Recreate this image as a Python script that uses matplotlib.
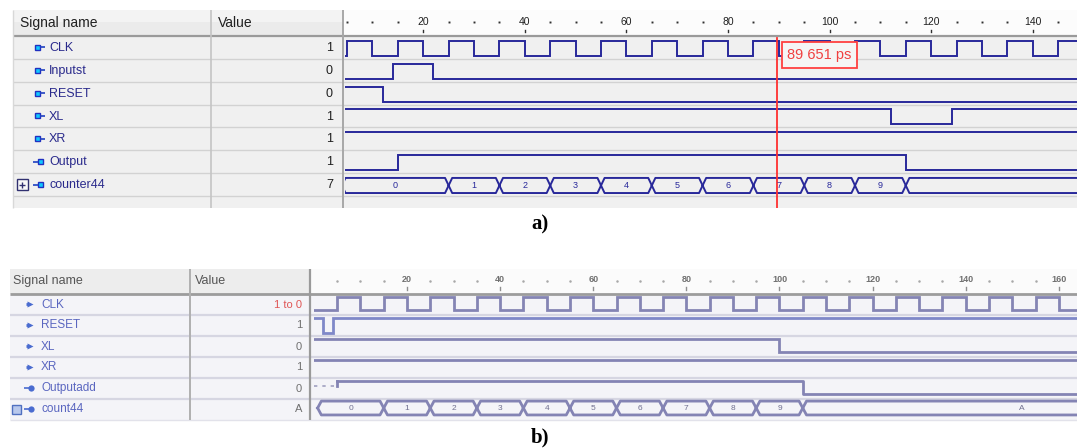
import matplotlib
matplotlib.use("Agg")
import matplotlib.pyplot as plt
import numpy as np
from matplotlib.patches import Rectangle

plt.rcParams['font.family'] = ['Liberation Sans', 'DejaVu Sans']

# ---------------- panel a data ----------------
names_a = ["CLK", "Inputst", "RESET", "XL", "XR", "Output", "counter44"]
dirs_a = ["in", "in", "in", "in", "in", "out", "bus"]
values_a = ["1", "0", "0", "1", "1", "1", "7"]
clk_a_edges = [5, 10, 15, 20, 25, 30, 35, 40, 45, 50, 55, 60, 65, 70, 75,
               80, 85, 90, 95, 100, 105, 110, 115, 120, 125, 130, 135, 140, 145]
clk_a_start = 0
inputst_a_edges = [14, 22]
inputst_a_start = 0
reset_a_edges = [12]
reset_a_start = 1
xl_a_edges = [112, 124]
xl_a_start = 1
xr_a_edges = []
xr_a_start = 1
output_a_edges = [15, 115]
output_a_start = 0
counter_a_bounds = [4, 25, 35, 45, 55, 65, 75, 85, 95, 105, 115, 170]
counter_a_labels = ["0", "1", "2", "3", "4", "5", "6", "7", "8", "9", ""]
ticks_a = [20, 40, 60, 80, 100, 120, 140]
cursor_a = 89.651
cursor_a_label = "89 651 ps"
view_a = (4.6, 148.7)

# ---------------- panel b data ----------------
names_b = ["CLK", "RESET", "XL", "XR", "Outputadd", "count44"]
dirs_b = ["in", "in", "in", "in", "out", "bus"]
values_b = ["1 to 0", "1", "0", "1", "0", "A"]
clk_b_edges = [5, 10, 15, 20, 25, 30, 35, 40, 45, 50, 55, 60, 65, 70, 75, 80,
               85, 90, 95, 100, 105, 110, 115, 120, 125, 130, 135, 140, 145,
               150, 155, 160]
clk_b_start = 0
reset_b_edges = [2, 4]
reset_b_start = 1
xl_b_edges = [100]
xl_b_start = 1
xr_b_edges = []
xr_b_start = 1
output_b_unknown_until = 5
output_b_edges = [105]
output_b_start = 1
count_b_bounds = [0.8, 15, 25, 35, 45, 55, 65, 75, 85, 95, 105, 199]
count_b_labels = ["0", "1", "2", "3", "4", "5", "6", "7", "8", "9", "A"]
ticks_b = [20, 40, 60, 80, 100, 120, 140, 160]
view_b = (0, 163.9)

# ---------------- figure ----------------
W, H = 1077, 448
fig = plt.figure(figsize=(W / 100, H / 100), dpi=100)
fig.patch.set_facecolor('white')


def px_axes(x0, y0, x1, y1, z=1):
    ax = fig.add_axes([x0 / W, 1 - y1 / H, (x1 - x0) / W, (y1 - y0) / H])
    ax.set_axis_off()
    ax.set_zorder(z)
    ax.patch.set_alpha(0)
    return ax


chrome = px_axes(0, 0, W, H, z=1)
chrome.set_xlim(0, W)
chrome.set_ylim(H, 0)


def rect(x0, y0, x1, y1, fc, ec='none', lw=0):
    chrome.add_patch(Rectangle((x0, y0), x1 - x0, y1 - y0, fc=fc, ec=ec, lw=lw))


def hline(y, x0, x1, c, lw=1):
    chrome.plot([x0, x1], [y, y], color=c, lw=lw, solid_capstyle='butt')


def vline(x, y0, y1, c, lw=1):
    chrome.plot([x, x], [y0, y1], color=c, lw=lw, solid_capstyle='butt')


def step_xy(start, edges, t0, t1):
    xs, ys, lvl = [t0], [start], start
    for e in edges:
        xs += [e, e]
        ys += [lvl, 1 - lvl]
        lvl = 1 - lvl
    xs.append(t1)
    ys.append(lvl)
    return np.array(xs, float), np.array(ys, float)


def draw_step(ax, row, start, edges, view, hi, lo, color, lw):
    xs, ys = step_xy(start, edges, view[0] - 5, view[1] + 5)
    yy = np.where(ys > 0.5, row + hi, row + lo)
    ax.plot(xs, yy, color=color, lw=lw, solid_joinstyle='miter')


def draw_bus(ax, row, bounds, labels, d, hi, lo, color, lw, fs, tcolor):
    mid = row + (hi + lo) / 2
    for s, e, lab in zip(bounds[:-1], bounds[1:], labels):
        xs = [s, s + d, e - d, e, e - d, s + d, s]
        ys = [mid, row + hi, row + hi, mid, row + lo, row + lo, mid]
        ax.plot(xs, ys, color=color, lw=lw)
        if lab:
            ax.text((s + e) / 2, mid + 0.02, lab, ha='center', va='center',
                    fontsize=fs, color=tcolor, clip_on=True)


# ================= PANEL A =================
ax0, ay0, acol1, acol2, awx, ay_head, ay1 = 13, 10, 211, 343, 345, 36, 208
arow = (196 - 36) / 7.0
rect(ax0, ay0, acol2, ay_head, '#ebebeb')
rect(ax0, ay0, acol2, ay0 + 12, '#f3f3f3')
rect(acol2, ay0, W, ay_head, '#fcfcfc')
rect(ax0, ay_head, W, ay1, '#f0f0f0')
for i in range(1, 8):
    hline(ay_head + i * arow, ax0, W, '#d2d2d2', 1)
hline(ay_head, ax0, W, '#9a9a9a', 1.6)
vline(ax0, ay0, ay1, '#d8d8d8', 1)
vline(acol1, ay0, ay1, '#c4c4c4', 1.2)
vline(acol2, ay0, ay1, '#a8a8a8', 1.4)
chrome.text(20, 23, "Signal name", fontsize=10, va='center', color='#202020')
chrome.text(218, 23, "Value", fontsize=10, va='center', color='#202020')

for i, (nm, dr, val) in enumerate(zip(names_a, dirs_a, values_a)):
    yc = ay_head + (i + 0.5) * arow
    if dr == "in":
        hline(yc, 40, 45, '#2040c0', 1.2)
        rect(35, yc - 2.5, 40, yc + 2.5, '#10c8ff', '#2030c0', 1)
    else:
        hline(yc, 33, 38, '#2040c0', 1.2)
        rect(38, yc - 2.5, 43, yc + 2.5, '#10c8ff', '#2030c0', 1)
    if dr == "bus":
        rect(16.5, yc - 5.5, 27.5, yc + 5.5, '#f8f8f8', '#303070', 1)
        hline(yc, 19, 25, '#303070', 1)
        vline(22, yc - 3, yc + 3, '#303070', 1)
    chrome.text(49, yc + 0.5, nm, fontsize=9, va='center', color='#2a2a8c')
    chrome.text(333, yc + 0.5, val, fontsize=9, va='center', ha='right', color='#202020')

wa = px_axes(awx, ay_head, W, ay1, z=3)
wa.set_xlim(*view_a)
wa.set_ylim((ay1 - ay_head) / arow, 0)
ca, lwa, hia, loa = '#28289a', 1.4, 0.21, 0.87
draw_step(wa, 0, clk_a_start, clk_a_edges, view_a, hia, loa, ca, lwa)
draw_step(wa, 1, inputst_a_start, inputst_a_edges, view_a, hia, loa, ca, lwa)
draw_step(wa, 2, reset_a_start, reset_a_edges, view_a, hia, loa, ca, lwa)
draw_step(wa, 3, xl_a_start, xl_a_edges, view_a, hia, loa, ca, lwa)
draw_step(wa, 4, xr_a_start, xr_a_edges, view_a, hia, loa, ca, lwa)
draw_step(wa, 5, output_a_start, output_a_edges, view_a, hia, loa, ca, lwa)
draw_bus(wa, 6, counter_a_bounds, counter_a_labels, 0.7, hia, loa, ca, lwa, 6.5, '#28289a')
wa.axvline(cursor_a, ymin=0, ymax=0.99, color='#ff3030', lw=1.3)
wa.annotate(cursor_a_label, xy=(cursor_a, 0.83), xytext=(7.5, 0),
            textcoords='offset points', ha='left', va='center', fontsize=10.5,
            color='#f04040',
            bbox=dict(boxstyle='square,pad=0.38', fc='#f5f5f5', ec='#ff4040', lw=1.3))

ha = px_axes(awx, ay0, W, ay_head, z=3)
ha.set_xlim(*view_a)
ha.set_ylim(1, 0)
for t in np.arange(5, view_a[1], 5):
    if t not in ticks_a:
        ha.plot([t], [0.46], marker='s', ms=1.4, color='#303030', mec='none')
for t in ticks_a:
    ha.text(t, 0.46, str(t), ha='center', va='center', fontsize=7.5, color='#202020')
    ha.plot([t, t], [0.76, 0.86], color='#303030', lw=1)

fig.text(540 / W, 1 - 224 / H, "a)", ha='center', va='center', fontsize=15,
         fontweight='bold', family='Liberation Serif')

# ================= PANEL B =================
bx0, by0, bcol1, bcol2, bwx, by_head, by1 = 10, 269, 190, 310, 313.9, 294, 420
brow = (by1 - by_head) / 6.0
rect(bx0, by0, bcol2, by_head, '#ededed')
rect(bcol2, by0, W, by_head, '#fbfbfb')
rect(bx0, by_head, W, by1, '#f4f4f8')
for i in range(1, 6):
    hline(by_head + i * brow, bx0, W, '#d6d6e2', 1.6)
hline(by_head, bx0, W, '#9c9c9c', 2)
hline(by1, bx0, W, '#e2e2ea', 1)
vline(bcol1, by0, by1, '#b0b0b0', 1.4)
vline(bcol2, by0, by1, '#9a9a9a', 1.6)
chrome.text(13, 281, "Signal name", fontsize=9, va='center', color='#555555')
chrome.text(195, 281, "Value", fontsize=9, va='center', color='#555555')

for i, (nm, dr, val) in enumerate(zip(names_b, dirs_b, values_b)):
    yc = by_head + (i + 0.5) * brow
    if dr == "in":
        chrome.plot([30], [yc], marker='>', ms=5, color='#4a6cd0', mec='none')
        hline(yc, 26, 30, '#4a6cd0', 2)
    else:
        chrome.plot([31], [yc], marker='o', ms=4.5, color='#4a6cd0', mec='none')
        hline(yc, 24, 30, '#4a6cd0', 1.2)
    if dr == "bus":
        rect(12, yc - 4.5, 21, yc + 4.5, '#b8c8ec', '#5070c0', 1)
    chrome.text(41, yc, nm, fontsize=8.5, va='center', color='#5a66c0')
    chrome.text(302, yc, val, fontsize=8, va='center', ha='right',
                color='#e05555' if i == 0 else '#707070')

wb = px_axes(bwx, by_head, W, by1, z=3)
wb.set_xlim(*view_b)
wb.set_ylim(6, 0)
cb, lwb, hib, lob = '#8484b4', 2.0, 0.12, 0.78
draw_step(wb, 0, clk_b_start, clk_b_edges, view_b, hib, lob, cb, lwb)
draw_step(wb, 1, reset_b_start, reset_b_edges, view_b, hib, lob + 0.08, '#7f88c8', lwb)
draw_step(wb, 2, xl_b_start, xl_b_edges, view_b, hib, lob, cb, lwb)
draw_step(wb, 3, xr_b_start, xr_b_edges, view_b, hib, lob, cb, lwb)
# Outputadd: unknown (dotted) at start, then step
xs_o, ys_o = step_xy(output_b_start, output_b_edges, output_b_unknown_until, view_b[1] + 5)
wb.plot(xs_o, np.where(ys_o > 0.5, 4 + hib, 4 + lob), color=cb, lw=lwb)
wb.plot([view_b[0], output_b_unknown_until], [4.4, 4.4], color='#a0a0c0', lw=1.2,
        ls=(0, (2, 3)))
wb.plot([output_b_unknown_until] * 2, [4.4, 4 + hib], color=cb, lw=lwb)
draw_bus(wb, 5, count_b_bounds, count_b_labels, 0.8, 0.1, 0.76, cb, lwb, 6, '#707090')

hb = px_axes(bwx, by0, W, by_head, z=3)
hb.set_xlim(*view_b)
hb.set_ylim(1, 0)
for t in np.arange(5, view_b[1], 5):
    if t not in ticks_b:
        hb.plot([t], [0.46], marker='o', ms=1.8, color='#a8a8a8', mec='none')
for t in ticks_b:
    hb.text(t, 0.44, str(t), ha='center', va='center', fontsize=6.5, color='#707070',
            fontweight='bold')
    hb.plot([t, t], [0.72, 0.84], color='#909090', lw=1)

fig.text(540 / W, 1 - 437 / H, "b)", ha='center', va='center', fontsize=15,
         fontweight='bold', family='Liberation Serif')

fig.savefig("out.png", dpi=100, facecolor='white')
